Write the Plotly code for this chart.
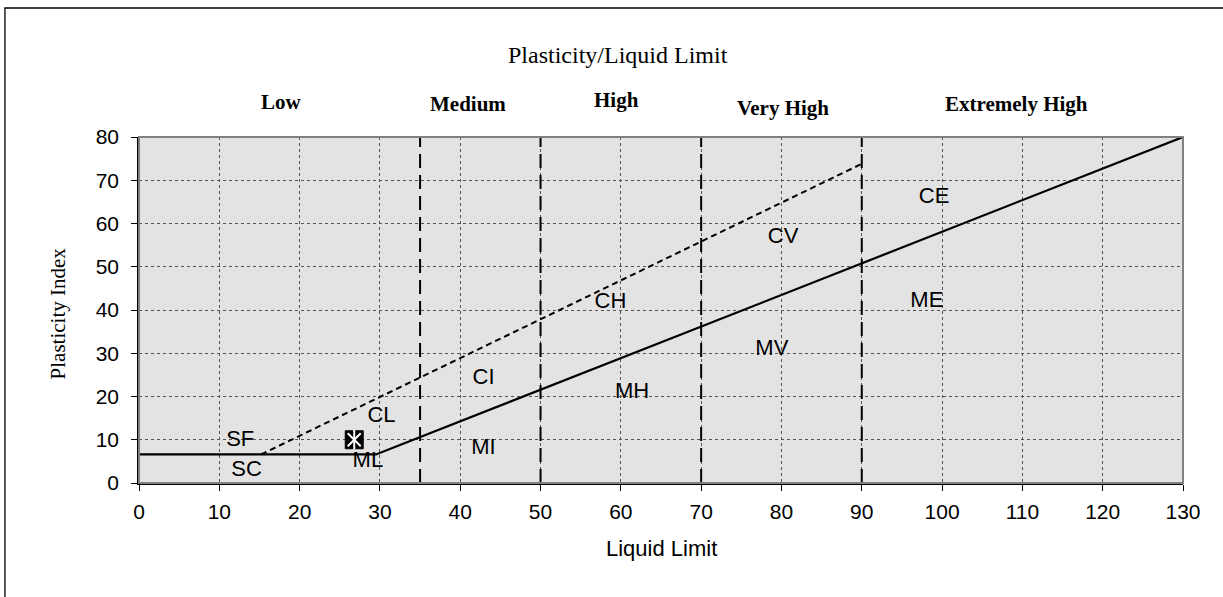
import plotly.graph_objects as go

# A-line (solid) and U-line (dashed)
a_line_ll = [0, 29.5, 130]
a_line_pi = [6.6, 6.6, 80]
u_line_ll = [15.2, 90]
u_line_pi = [6.6, 73.8]

# vertical boundaries between plasticity classes
bounds_ll = [35, 50, 70, 90]
bound_pi = [0, 80]

# sample point
sample_ll = [26.8]
sample_pi = [10]

# zone labels
zone_text = ["SF", "SC", "CL", "ML", "CI", "MI", "CH", "MH", "CV", "MV", "CE", "ME"]
zone_ll = [12.6, 13.4, 30.2, 28.5, 42.9, 42.9, 58.7, 61.4, 80.2, 78.8, 99.0, 98.1]
zone_pi = [9.9, 3.0, 15.3, 4.9, 24.2, 8.0, 41.8, 20.9, 56.8, 30.8, 66.0, 41.9]

# class headers
class_text = ["Low", "Medium", "High", "Very High", "Extremely High"]
class_ll = [17.8, 41.0, 59.5, 80.2, 109.3]
class_y = [1.100, 1.094, 1.108, 1.085, 1.094]

x_ticks = list(range(0, 131, 10))
y_ticks = list(range(0, 81, 10))

SANS = "Liberation Sans, Arial"
SERIF = "Liberation Serif, Times New Roman"

fig = go.Figure()

for b in bounds_ll:
    fig.add_trace(go.Scatter(x=[b, b], y=bound_pi, mode="lines",
                             line=dict(color="black", width=2, dash="14px,7px"),
                             hoverinfo="skip"))

fig.add_trace(go.Scatter(x=u_line_ll, y=u_line_pi, mode="lines",
                         line=dict(color="black", width=2, dash="6px,4px")))
fig.add_trace(go.Scatter(x=a_line_ll, y=a_line_pi, mode="lines",
                         line=dict(color="black", width=2.2)))

fig.add_trace(go.Scatter(x=zone_ll, y=zone_pi, mode="text", text=zone_text,
                         textfont=dict(family=SANS, size=22, color="black")))

fig.add_trace(go.Scatter(x=sample_ll, y=sample_pi, mode="markers",
                         marker=dict(symbol="square", size=18, color="black",
                                     line=dict(color="black", width=1))))
fig.add_trace(go.Scatter(x=sample_ll, y=sample_pi, mode="markers",
                         marker=dict(symbol="x-thin-open", size=13, color="white",
                                     line=dict(color="white", width=2))))
fig.add_trace(go.Scatter(x=sample_ll, y=sample_pi, mode="markers",
                         marker=dict(symbol="line-ns-open", size=14, color="white",
                                     line=dict(color="white", width=2))))

annotations = []
for t, xx, yy in zip(class_text, class_ll, class_y):
    annotations.append(dict(text="<b>" + t + "</b>", x=xx, y=yy, xref="x", yref="paper",
                            xanchor="center", yanchor="middle", showarrow=False,
                            font=dict(family=SERIF, size=21, color="black")))
annotations.append(dict(text="Plasticity/Liquid Limit", x=59.6, y=1.238, xref="x", yref="paper",
                        xanchor="center", yanchor="middle", showarrow=False,
                        font=dict(family=SERIF, size=24, color="black")))
annotations.append(dict(text="Plasticity Index", x=-0.0776, y=0.49, xref="paper", yref="paper",
                        xanchor="center", yanchor="middle", textangle=-90, showarrow=False,
                        font=dict(family=SERIF, size=21, color="black")))
annotations.append(dict(text="Liquid Limit", x=0.5, y=-0.19, xref="paper", yref="paper",
                        xanchor="center", yanchor="middle", showarrow=False,
                        font=dict(family=SANS, size=22, color="black")))

shapes = [
    # outer chart frame (partially visible)
    dict(type="rect", xref="paper", yref="paper", x0=-0.1284, y0=-0.6, x1=1.3, y1=1.3728,
         line=dict(color="black", width=1.3), layer="below"),
    # plot frame
    dict(type="rect", xref="paper", yref="paper", x0=0, y0=0, x1=1, y1=1,
         line=dict(color="#808080", width=2), layer="above"),
]

fig.update_layout(
    width=1223, height=597,
    margin=dict(l=139, r=40, t=137, b=114),
    paper_bgcolor="white",
    plot_bgcolor="#e3e3e3",
    showlegend=False,
    annotations=annotations,
    shapes=shapes,
)
axis_common = dict(ticks="outside", ticklen=6, tickcolor="black", showgrid=True,
                   gridcolor="#555555", griddash="dot", gridwidth=1, zeroline=False,
                   showline=True, linecolor="black", linewidth=1.5,
                   tickfont=dict(family=SANS, size=21, color="black"))
fig.update_xaxes(range=[0, 130], tickvals=x_ticks, ticklabelstandoff=3, **axis_common)
fig.update_yaxes(range=[0, 80], tickvals=y_ticks, ticklabelstandoff=8, **axis_common)

fig.write_html("out.html", config={"displayModeBar": False},
               post_script="document.body.style.margin='0';document.body.style.overflow='hidden';")
